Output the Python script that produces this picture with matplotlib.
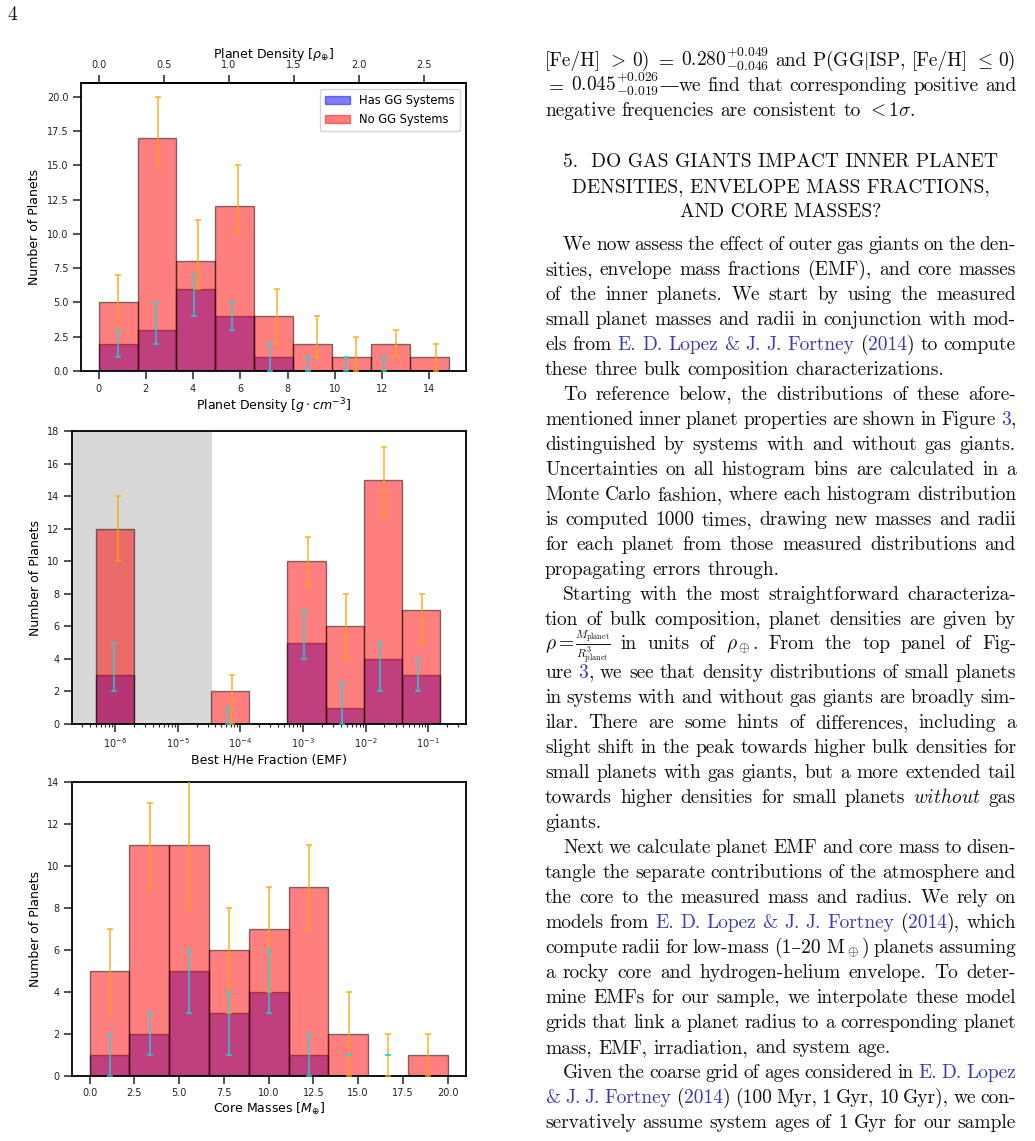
import matplotlib
matplotlib.use("Agg")
import matplotlib.pyplot as plt
import numpy as np
from matplotlib.transforms import IdentityTransform

W, H = 1035, 1141

# ---- panel 1: planet density (g/cm^3)
dens_edges = [0.0, 1.65, 3.29, 4.94, 6.59, 8.23, 9.88, 11.53, 13.17, 14.82]
dens_no_gg = [5, 17, 8, 12, 4, 2, 1, 2, 1]
dens_has_gg = [2, 3, 6, 4, 1, 0, 0, 0, 0]
dens_no_err_x = [0.80, 2.53, 4.19, 5.88, 7.54, 9.24, 10.90, 12.59, 14.26]
dens_no_err_lo = [3, 15, 6, 10, 2, 1, 0, 1, 0]
dens_no_err_hi = [7, 20, 11, 15, 6, 4, 2.5, 3, 2]
dens_has_err_x = [0.80, 2.43, 4.04, 5.66, 7.26, 8.88, 10.49, 12.10]
dens_has_err_lo = [1, 2, 4, 3, 0, 0, 0, 0]
dens_has_err_hi = [3, 5, 7, 5, 2, 1, 1, 1]
rho_earth = 5.51
rho_ticks = [0.0, 0.5, 1.0, 1.5, 2.0, 2.5]

# ---- panel 2: envelope mass fraction (log10 values)
emf_log_edges = [-6.30, -5.69, -5.08, -4.47, -3.86, -3.25, -2.64, -2.03, -1.42, -0.81]
emf_no_gg = [12, 0, 0, 2, 0, 10, 6, 15, 7]
emf_has_gg = [3, 0, 0, 0, 0, 5, 1, 4, 3]
emf_no_err_x = [-5.96, -4.13, -2.92, -2.32, -1.71, -1.10]
emf_no_err_lo = [10, 0, 8.5, 4, 12.8, 5]
emf_no_err_hi = [14, 3, 11.5, 8, 17, 8]
emf_has_err_x = [-6.02, -4.20, -2.98, -2.37, -1.77, -1.16]
emf_has_err_lo = [2, 0, 4, 0, 2, 2]
emf_has_err_hi = [5, 1, 7, 2.5, 5, 4]
emf_decades = [1e-6, 1e-5, 1e-4, 1e-3, 1e-2, 1e-1]
emf_shade_end = -4.46

# ---- panel 3: core masses
core_edges = [0.0, 2.22, 4.44, 6.67, 8.89, 11.11, 13.33, 15.56, 17.78, 20.0]
core_no_gg = [5, 11, 11, 6, 7, 9, 2, 0, 1]
core_has_gg = [1, 2, 5, 3, 4, 1, 0, 0, 0]
core_no_err_x = [1.12, 3.36, 5.57, 7.77, 10.01, 12.23, 14.47, 16.67, 18.90]
core_no_err_lo = [3, 9, 8, 3, 4, 7, 0, 0, 0]
core_no_err_hi = [7, 13, 15, 8, 9, 11, 4, 2, 2]
core_has_err_x = [1.12, 3.36, 5.57, 7.77, 10.01, 12.23, 14.47, 16.67]
core_has_err_lo = [0, 1, 3, 1, 3, 0, 1, 1]
core_has_err_hi = [2, 3, 6, 4, 6, 2, 1, 1]

# ---- page text ('#' toggles link colour, '~' splits a word into pieces)
page_number = "4"
top_lines = [
    r"[Fe/H] $>$ 0) $=$ $0.280^{+0.049}_{-0.046}$ and P(GG$|$ISP, [Fe/H] $\leq$ 0)",
    r"$=$ $0.045^{+0.026}_{-0.019}$—we find that corresponding positive and",
    r"negative frequencies are consistent to $<1\sigma$.",
]
heading_lines = [
    "5.  DO GAS GIANTS IMPACT INNER PLANET",
    "DENSITIES, ENVELOPE MASS FRACTIONS,",
    "AND CORE MASSES?",
]
paragraphs = [
    [
        "We now assess the effect of outer gas giants on the den-",
        "sities, envelope mass fractions (EMF), and core masses",
        "of the inner planets.  We start by using the measured",
        "small planet masses and radii in conjunction with mod-",
        "els from #E. D. Lopez & J. J. Fortney# (#2014#) to compute",
        "these three bulk composition characterizations.",
    ],
    [
        "To reference below, the distributions of these afore-",
        "mentioned inner planet properties are shown in Figure #3#,",
        "distinguished by systems with and without gas giants.",
        "Uncertainties on all histogram bins are calculated in a",
        "Monte Carlo fashion, where each histogram distribution",
        "is computed 1000 times, drawing new masses and radii",
        "for each planet from those measured distributions and",
        "propagating errors through.",
    ],
    [
        "Starting with the most straightforward characteriza-",
        "tion of bulk composition, planet densities are given by",
        r"$\rho=$~$\frac{M_\mathrm{planet}}{R^3_\mathrm{planet}}$ in units of $\rho_\oplus$.  From the top panel of Fig-",
        "ure #3#, we see that density distributions of small planets",
        "in systems with and without gas giants are broadly sim-",
        "ilar.  There are some hints of differences, including a",
        "slight shift in the peak towards higher bulk densities for",
        "small planets with gas giants, but a more extended tail",
        r"towards higher densities for small planets $\mathit{without}$ gas",
        "giants.",
    ],
    [
        "Next we calculate planet EMF and core mass to disen-",
        "tangle the separate contributions of the atmosphere and",
        "the core to the measured mass and radius.  We rely on",
        "models from #E. D. Lopez & J. J. Fortney# (#2014#), which",
        r"compute radii for low-mass (1–20 M$_\oplus$) planets assuming",
        "a rocky core and hydrogen-helium envelope.  To deter-",
        "mine EMFs for our sample, we interpolate these model",
        "grids that link a planet radius to a corresponding planet",
        "mass, EMF, irradiation, and system age.",
    ],
    [
        "Given the coarse grid of ages considered in #E. D. Lopez#",
        "#& J. J. Fortney# (#2014#) (100 Myr, 1 Gyr, 10 Gyr), we con-",
        "servatively assume system ages of 1 Gyr for our sample",
    ],
]

INK = "#111111"
LINK = "#3a3ab5"
SERIF = ["cmr10", "DejaVu Serif"]
FS = 14.0

plt.rcParams.update({
    "font.family": "DejaVu Sans",
    "axes.linewidth": 1.3,
    "xtick.major.size": 5.5, "ytick.major.size": 5.5,
    "xtick.major.width": 1.1, "ytick.major.width": 1.1,
    "xtick.minor.size": 2.5, "xtick.minor.width": 0.8,
    "xtick.labelsize": 7, "ytick.labelsize": 7,
    "axes.labelsize": 9,
    "xtick.color": "#222222", "ytick.color": "#222222",
})

fig = plt.figure(figsize=(W / 100, H / 100), dpi=100)


def hist_panel(ax, edges, has, no):
    edges = np.asarray(edges, dtype=float)
    ax.bar(edges[:-1], has, width=np.diff(edges), align="edge", color="blue",
           alpha=0.5, edgecolor="black", linewidth=1.0, label="Has GG Systems")
    ax.bar(edges[:-1], no, width=np.diff(edges), align="edge", color="red",
           alpha=0.5, edgecolor="black", linewidth=1.0, label="No GG Systems")


def err_bars(ax, x, lo, hi, color):
    lo = np.asarray(lo, dtype=float)
    hi = np.asarray(hi, dtype=float)
    ax.errorbar(x, (lo + hi) / 2, yerr=(hi - lo) / 2, fmt="none", ecolor=color,
                elinewidth=1.1, capsize=2, capthick=1.1, alpha=0.85, zorder=5)


ORANGE = "orange"
CYAN = "#0fdde3"

# panel 1
ax1 = fig.add_axes([81 / W, 1 - 371 / H, 385 / W, 288 / H])
hist_panel(ax1, dens_edges, dens_has_gg, dens_no_gg)
err_bars(ax1, dens_no_err_x, dens_no_err_lo, dens_no_err_hi, ORANGE)
err_bars(ax1, dens_has_err_x, dens_has_err_lo, dens_has_err_hi, CYAN)
ax1.set_xlim(-0.745, 15.55)
ax1.set_ylim(0, 21.0)
ax1.set_xticks([0, 2, 4, 6, 8, 10, 12, 14])
ax1.set_yticks(np.arange(0, 20.1, 2.5))
ax1.set_xlabel(r"Planet Density [$g \cdot cm^{-3}$]", labelpad=2)
ax1.set_ylabel("Number of Planets")
leg = ax1.legend(loc="upper right", fontsize=8.3, borderpad=0.45,
                 handlelength=2.2, framealpha=0.8)
leg.get_frame().set_edgecolor("#cccccc")
for hnd in leg.legend_handles:
    hnd.set_edgecolor(hnd.get_facecolor())
top = ax1.secondary_xaxis("top", functions=(lambda x: x / rho_earth,
                                            lambda x: x * rho_earth))
top.set_xticks(rho_ticks)
top.set_xlabel(r"Planet Density [$\rho_{\oplus}$]", labelpad=2)

# panel 2
ax2 = fig.add_axes([72 / W, 1 - 724 / H, 394 / W, 293 / H])
ax2.axvspan(1e-9, 10 ** emf_shade_end, color="gray", alpha=0.3, lw=0, zorder=0)
hist_panel(ax2, 10 ** np.array(emf_log_edges), emf_has_gg, emf_no_gg)
err_bars(ax2, 10 ** np.array(emf_no_err_x), emf_no_err_lo, emf_no_err_hi, ORANGE)
err_bars(ax2, 10 ** np.array(emf_has_err_x), emf_has_err_lo, emf_has_err_hi, CYAN)
ax2.set_xscale("log")
ax2.set_xticks(emf_decades)
ax2.set_xlim(10 ** -6.687, 10 ** -0.398)
ax2.set_ylim(0, 18)
ax2.set_yticks(np.arange(0, 19, 2))
ax2.set_xlabel("Best H/He Fraction (EMF)", labelpad=2)
ax2.set_ylabel("Number of Planets")

# panel 3
ax3 = fig.add_axes([72 / W, 1 - 1076 / H, 394 / W, 294 / H])
hist_panel(ax3, core_edges, core_has_gg, core_no_gg)
err_bars(ax3, core_no_err_x, core_no_err_lo, core_no_err_hi, ORANGE)
err_bars(ax3, core_has_err_x, core_has_err_lo, core_has_err_hi, CYAN)
ax3.set_xlim(-0.99, 21.03)
ax3.set_ylim(0, 14)
ax3.set_xticks(np.arange(0, 20.1, 2.5))
ax3.set_yticks(np.arange(0, 15, 2))
ax3.set_xlabel(r"Core Masses [$M_{\oplus}$]", labelpad=2)
ax3.set_ylabel("Number of Planets")

# ---- page text, justified like the typeset column
renderer = fig.canvas.get_renderer()
LEFT, RIGHT = 545.0, 1016.0
INDENT = 18.0


def put(s, x, y, color=INK, ha="left"):
    fam = ["DejaVu Serif"] if s == "—" else SERIF
    size = FS * 0.85 if s.startswith(r"$\frac") else FS
    return fig.text(x, H - y, s, transform=IdentityTransform(), fontsize=size,
                    family=fam, math_fontfamily="cm", color=color,
                    va="baseline", ha=ha)


def parse(line):
    words, blue = [], False
    for raw in line.split(" "):
        if raw == "":
            continue
        pieces = []
        for i, p in enumerate(raw.split("#")):
            if i > 0:
                blue = not blue
            for part in p.split("~"):
                for j, q in enumerate(part.split("—")):
                    if j > 0:
                        pieces.append(("—", INK))
                    if q:
                        pieces.append((q, LINK if blue else INK))
        words.append(pieces)
    return words


def text_line(line, y, indent=0.0, justify=True):
    words = parse(line)
    x0 = LEFT + indent
    drawn, widths = [], []
    for pieces in words:
        objs, w = [], 0.0
        for s, c in pieces:
            t = put(s, x0, y, c)
            objs.append((t, w))
            w += t.get_window_extent(renderer).width
        drawn.append(objs)
        widths.append(w)
    if justify and len(words) > 1:
        gap = (RIGHT - x0 - sum(widths)) / (len(words) - 1)
    else:
        gap = FS * 100 / 72 * 0.333
    x = x0
    for objs, w in zip(drawn, widths):
        for t, off in objs:
            t.set_position((x + off, H - y))
        x += w + gap


put(page_number, 7, 20)

y = 66
for i, line in enumerate(top_lines):
    text_line(line, y, justify=i < len(top_lines) - 1)
    y += 25

for k, line in enumerate(heading_lines):
    put(line, (LEFT + RIGHT) / 2, 167 + 25 * k, ha="center")

y = 250
for n, para in enumerate(paragraphs):
    for i, line in enumerate(para):
        last = (i == len(para) - 1) and n < len(paragraphs) - 1
        if line.startswith(r"$\rho"):
            text_line(line, y - 1, justify=True)
            y += 28
            continue
        text_line(line, y, indent=INDENT if i == 0 else 0.0, justify=not last)
        y += 25

fig.savefig("out.png", dpi=100)
